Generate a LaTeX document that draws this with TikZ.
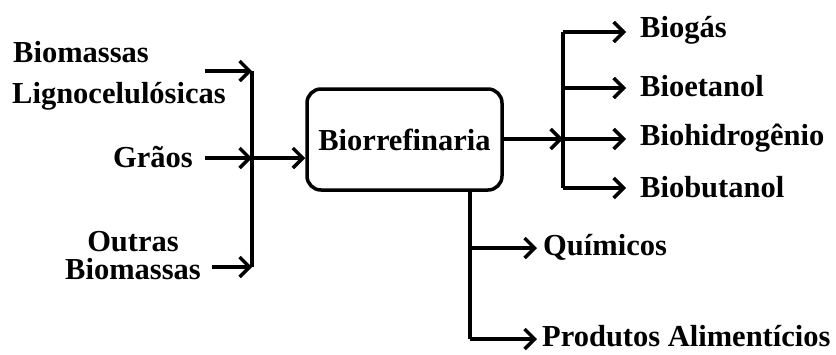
\documentclass[tikz,border=0pt]{standalone}
\usepackage{fontspec}
\setmainfont{Liberation Serif}
\usetikzlibrary{arrows.meta}
\tikzset{
  lbl/.style={font=\bfseries\fontsize{30.5}{28}\selectfont, inner sep=0pt, align=left},
  conn/.style={line width=3.5pt},
  arr/.style={conn, -{Straight Barb[length=10pt,width=20pt,line width=3.5pt]}},
  boxst/.style={draw, line width=3.5pt, rounded corners=14pt, minimum width=195pt, minimum height=101pt, inner sep=0pt}
}
\begin{document}
\begin{tikzpicture}[x=1pt,y=-1pt]
\useasboundingbox (0,0) rectangle (836,354);
% inputs
\node[lbl, anchor=west] (bio) at (13,52) {Biomassas};
\node[lbl, anchor=west] (lig) at (12,96) {Lignocelulósicas};
\node[lbl, anchor=east] (graos) at (193,157) {Grãos};
\node[lbl, anchor=east, align=center] (outras) at (201,256) {Outras\\Biomassas};
% box
\node[boxst, lbl] (box) at (404.5,139.5) {Biorrefinaria};
% left bar
\coordinate (b1) at (252,71);
\coordinate (b2) at (252,158);
\coordinate (b3) at (252,267);
\coordinate (s1) at (205,71);
\coordinate (s2) at (205,158);
\coordinate (s3) at (212,267);
\draw[conn] (b1) -- (b3);
\draw[arr] (s1) -- (b1);
\draw[arr] (s2) -- (b2);
\draw[arr] (s3) -- (b3);
\draw[arr] (b2) -- (box.west |- b2);
% right outputs
\coordinate (r0) at (563,139);
\coordinate (r1) at (563,32);
\coordinate (r2) at (563,88);
\coordinate (r4) at (563,188);
\node[lbl, anchor=west] (biogas) at (640,30) {Biogás};
\node[lbl, anchor=west] (bioet) at (640,86) {Bioetanol};
\node[lbl, anchor=west] (bioh) at (640,138) {Biohidrogênio};
\node[lbl, anchor=west] (biob) at (640,187) {Biobutanol};
\draw[arr] (box.east |- r0) -- (r0);
\draw[conn] (r1) -- (r4);
\draw[arr] (r1) -- (626,32);
\draw[arr] (r2) -- (626,88);
\draw[arr] (r0) -- (626,139);
\draw[arr] (r4) -- (626,188);
% bottom outputs
\coordinate (d0) at (470,190);
\coordinate (d1) at (470,248);
\coordinate (d2) at (470,339);
\coordinate (e1) at (537,248);
\coordinate (e2) at (537,339);
\node[lbl, anchor=west] (quim) at (543,247) {Químicos};
\node[lbl, anchor=west] (prod) at (542,336) {Produtos Alimentícios};
\draw[conn] (box.south -| d0) -- (d2);
\draw[arr] (d1) -- (e1);
\draw[arr] (d2) -- (e2);
\end{tikzpicture}
\end{document}
